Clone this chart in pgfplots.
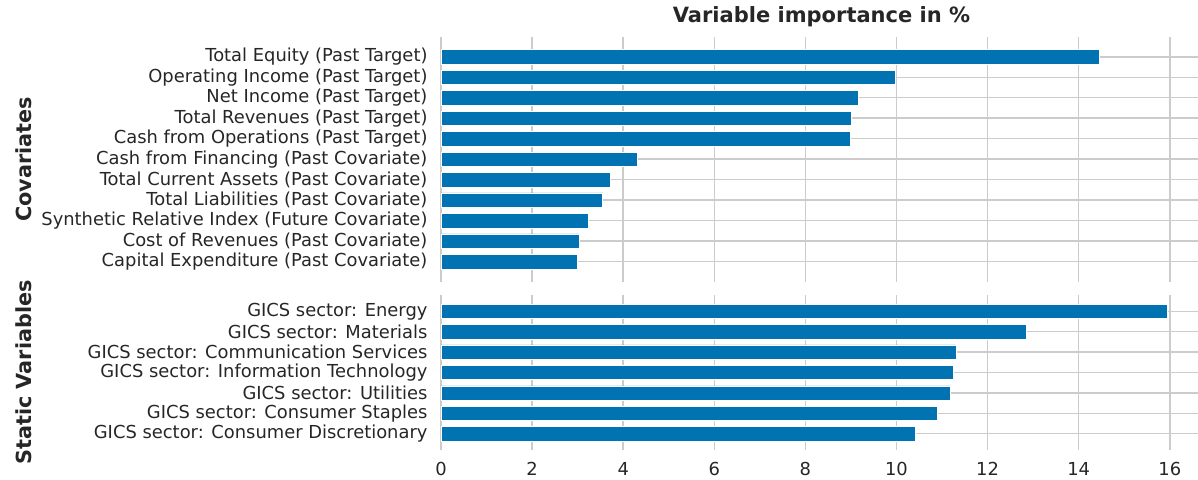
\documentclass[border=0pt]{standalone}
\usepackage{fontspec}
\setmainfont{DejaVu Sans}
\usepackage{pgfplots}
\usepackage{pgfplotstable}
\pgfplotsset{compat=1.18}
\definecolor{barblue}{HTML}{0173B2}
\definecolor{gridgray}{HTML}{CCCCCC}
\definecolor{textgray}{HTML}{262626}

\pgfplotstableread[col sep=comma]{
y,value,label
0,3.00,Capital Expenditure (Past Covariate)
1,3.04,Cost of Revenues (Past Covariate)
2,3.24,Synthetic Relative Index (Future Covariate)
3,3.55,Total Liabilities (Past Covariate)
4,3.71,Total Current Assets (Past Covariate)
5,4.31,Cash from Financing (Past Covariate)
6,8.99,Cash from Operations (Past Target)
7,9.01,Total Revenues (Past Target)
8,9.15,Net Income (Past Target)
9,9.97,Operating Income (Past Target)
10,14.45,Total Equity (Past Target)
}\cov

\pgfplotstableread[col sep=comma]{
y,value,label
0,10.41,GICS sector: Consumer Discretionary
1,10.89,GICS sector: Consumer Staples
2,11.18,GICS sector: Utilities
3,11.24,GICS sector: Information Technology
4,11.31,GICS sector: Communication Services
5,12.84,GICS sector: Materials
6,15.94,GICS sector: Energy
}\stat

\pgfplotsset{
  myaxis/.style={
    scale only axis,
    width=757pt,
    xmin=0, xmax=16.62,
    xtick={0,2,...,16},
    ytick=data,
    xmajorgrids, ymajorgrids,
    grid style={line width=1.5pt, color=gridgray},
    major tick length=0pt,
    axis lines*=left,
    x axis line style={draw=none},
    y axis line style={draw=gridgray, line width=1.5pt},
    tick label style={text=textgray, font=\fontsize{17.9}{21}\selectfont,
      /pgf/number format/assume math mode=true},
    yticklabel style={anchor=east, xshift=-10pt},
    xticklabel style={anchor=north, yshift=-8.5pt},
    label style={text=textgray, font=\fontsize{20.8}{24}\selectfont\bfseries},
    ylabel style={at={(axis description cs:-0.5509,0.5)}, anchor=center, rotate=0},
  }
}

\begin{document}
\begin{tikzpicture}
\useasboundingbox (0,0) rectangle (1198pt,479pt);
\begin{axis}[myaxis,
  at={(441pt,197.3pt)}, anchor=south west,
  height=245pt,
  ymin=-0.98, ymax=10.98,
  xticklabels={},
  yticklabels from table={\cov}{label},
  ylabel={Covariates},
  title={Variable importance in \%},
  title style={at={(axis description cs:0.5,1)}, anchor=base, yshift=8.4pt, xshift=2pt,
    text=textgray, font=\fontsize{21}{25}\selectfont\bfseries},
]
\addplot[xbar, fill=barblue, draw=white, line width=0.4pt, bar width=0.7] table[x=value, y=y] {\cov};
\end{axis}
\begin{axis}[myaxis,
  at={(441pt,29pt)}, anchor=south west,
  height=155pt,
  ymin=-0.8, ymax=6.8,
  yticklabels from table={\stat}{label},
  ylabel={Static Variables},
]
\addplot[xbar, fill=barblue, draw=white, line width=0.4pt, bar width=0.7] table[x=value, y=y] {\stat};
\end{axis}
\end{tikzpicture}
\end{document}
